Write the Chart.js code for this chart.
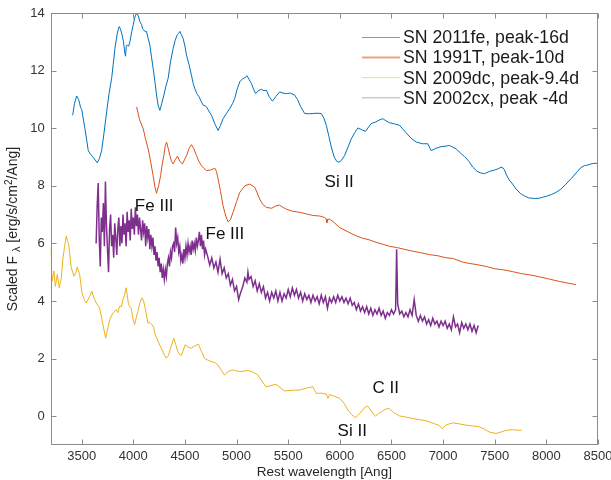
<!DOCTYPE html>
<html>
<head>
<meta charset="utf-8">
<script src="https://cdn.jsdelivr.net/npm/chart.js@4/dist/chart.umd.min.js"></script>
<style>
html, body { margin: 0; padding: 0; background: #fff; }
#wrap { width: 611px; height: 480px; }
</style>
</head>
<body>
<div id="wrap"><canvas id="myChart"></canvas></div>
<script>
// Spectra (rest wavelength in Ang, scaled flux)
const fe11Wave = [3413,3430,3451,3470,3490,3500,3532,3550,3564,3585,3612,3630,3651,3672,3693,3715,3742,3765,3790,3805,3822,3845,3863,3875,3887,3905,3918,3925,3932,3941,3955,3967,3985,3999,4015,4032,4048,4064,4080,4090,4102,4115,4128,4145,4160,4175,4192,4210,4225,4240,4257,4275,4296,4315,4337,4360,4386,4405,4425,4440,4451,4465,4482,4500,4515,4540,4563,4580,4595,4615,4637,4655,4676,4695,4709,4730,4757,4790,4821,4845,4869,4900,4934,4960,4982,5005,5031,5060,5080,5101,5120,5144,5165,5185,5210,5240,5265,5289,5315,5347,5380,5417,5450,5482,5520,5562,5590,5620,5659,5700,5739,5780,5820,5845,5869,5895,5917,5945,5970,5991,6015,6046,6080,6111,6145,6175,6210,6249,6280,6304,6350,6380,6416,6450,6481,6530,6578,6640,6690,6740,6800,6852,6884,6930,6980,7029,7061,7090,7126,7165,7206,7250,7287,7330,7360,7400,7450,7500,7540,7561,7580,7595,7609,7640,7673,7706,7750,7787,7830,7883,7930,7963,8012,8050,8093,8140,8190,8240,8302,8330,8367,8400,8432,8460,8500];
const fe11Flux = [10.45,10.85,11.12,11.0,10.72,10.65,9.98,9.55,9.22,9.1,8.99,8.9,8.8,8.95,9.22,9.8,10.57,11.2,11.73,12.2,12.77,13.3,13.53,13.45,13.3,13.0,12.6,12.5,12.85,12.89,12.85,13.0,13.35,13.59,13.85,14.0,13.9,13.7,13.6,13.45,13.41,13.35,13.36,13.1,12.89,12.5,12.08,11.6,11.15,10.8,10.62,10.85,11.15,11.45,11.73,12.3,12.77,13.05,13.24,13.3,13.36,13.25,13.12,12.85,12.54,12.2,11.84,11.55,11.38,11.2,11.09,10.95,10.8,10.78,10.74,10.6,10.45,10.15,9.92,10.1,10.33,10.5,10.68,10.85,11.03,11.35,11.61,11.72,11.75,11.82,11.7,11.55,11.35,11.2,11.3,11.35,11.3,11.32,11.1,10.94,11.1,11.26,11.22,11.2,11.22,11.15,11.0,10.75,10.51,10.5,10.51,10.52,10.51,10.35,10.1,9.7,9.35,9.0,8.85,8.82,8.88,9.05,9.35,9.63,9.85,10.01,9.95,9.89,10.05,10.16,10.22,10.28,10.33,10.25,10.19,10.15,10.1,9.85,9.65,9.52,9.46,9.46,9.22,9.3,9.36,9.38,9.4,9.35,9.28,9.15,9.02,8.85,8.65,8.5,8.45,8.42,8.5,8.55,8.6,8.65,8.62,8.55,8.41,8.2,8.06,7.89,7.73,7.65,7.58,7.56,7.57,7.6,7.65,7.7,7.77,7.88,8.06,8.25,8.5,8.62,8.7,8.72,8.76,8.78,8.78];

const t91Wave = [4032,4060,4096,4120,4144,4170,4192,4210,4225,4245,4264,4280,4296,4310,4322,4338,4354,4370,4386,4405,4428,4450,4476,4495,4515,4540,4563,4585,4612,4635,4660,4685,4709,4750,4789,4805,4821,4845,4869,4895,4917,4940,4966,5000,5031,5080,5127,5176,5200,5224,5255,5289,5340,5380,5417,5450,5482,5540,5611,5680,5739,5804,5852,5868,5875,5885,5901,5933,5998,6080,6159,6220,6288,6350,6416,6480,6546,6620,6706,6780,6868,6950,7029,7093,7190,7260,7319,7416,7500,7590,7673,7760,7850,7932,8030,8125,8210,8286];
const t91Flux = [10.74,10.3,9.98,9.6,9.28,8.8,8.35,7.95,7.74,8.0,8.35,8.75,9.05,9.4,9.52,9.3,9.05,8.85,8.76,8.9,9.03,8.85,8.76,8.9,9.05,9.3,9.43,9.3,9.05,8.85,8.7,8.6,8.53,8.55,8.61,8.5,8.24,7.8,7.31,6.95,6.75,6.82,7.08,7.45,7.77,8.0,8.06,7.95,7.75,7.54,7.35,7.25,7.22,7.3,7.33,7.25,7.19,7.12,7.08,7.02,6.97,6.95,6.9,6.85,6.72,6.84,6.84,6.76,6.55,6.4,6.26,6.18,6.12,6.04,5.97,5.9,5.86,5.8,5.73,5.68,5.61,5.57,5.5,5.48,5.35,5.3,5.27,5.2,5.12,5.08,5.02,4.95,4.9,4.84,4.76,4.68,4.62,4.57];

const dc09Wave = [3200,3213,3232,3245,3264,3283,3303,3319,3335,3351,3362,3374,3399,3425,3445,3457,3480,3503,3525,3544,3577,3599,3620,3641,3674,3706,3732,3750,3771,3802,3834,3850,3867,3885,3899,3915,3931,3945,3954,3979,3995,4012,4044,4065,4083,4100,4115,4141,4160,4180,4195,4212,4240,4270,4318,4340,4360,4392,4410,4431,4463,4480,4502,4530,4560,4600,4631,4660,4689,4720,4753,4790,4818,4850,4883,4920,4963,5000,5043,5090,5124,5165,5205,5245,5285,5330,5382,5420,5463,5540,5611,5680,5739,5772,5820,5869,5885,5900,5940,5998,6040,6078,6115,6152,6180,6207,6240,6271,6310,6346,6375,6401,6440,6475,6525,6578,6640,6706,6770,6836,6916,6960,6991,7030,7093,7160,7223,7290,7351,7400,7448,7513,7560,7609,7670,7738,7760];
const dc09Flux = [5.85,4.69,5.04,4.51,4.92,4.46,4.81,5.5,5.9,6.26,6.1,5.97,5.16,4.86,5.0,5.18,4.92,4.28,4.05,3.93,4.16,4.34,4.1,3.93,3.76,3.18,2.71,3.0,3.35,3.58,3.7,3.6,3.82,3.8,4.05,4.2,4.46,4.1,3.87,3.76,3.4,3.18,3.64,3.95,4.11,4.0,3.76,3.24,3.25,3.18,3.1,2.83,2.6,2.36,2.01,2.1,2.36,2.71,2.5,2.24,2.1,2.25,2.48,2.4,2.36,2.45,2.5,2.25,2.01,1.95,1.9,1.86,1.78,1.6,1.43,1.55,1.61,1.57,1.55,1.58,1.58,1.52,1.43,1.22,1.02,1.06,1.11,1.0,0.88,0.9,0.91,0.98,1.02,0.79,0.8,0.77,0.62,0.75,0.7,0.62,0.45,0.21,0.05,-0.05,0.05,0.15,0.3,0.35,0.15,0.0,0.1,0.15,0.24,0.27,0.12,0.01,-0.03,-0.08,-0.12,-0.16,-0.26,-0.32,-0.43,-0.3,-0.23,-0.27,-0.31,-0.34,-0.37,-0.45,-0.55,-0.6,-0.55,-0.49,-0.47,-0.49,-0.49];

const cx02Wave = [3640,3650,3660,3670,3680,3690,3700,3710,3720,3730,3740,3750,3760,3770,3780,3790,3800,3810,3820,3830,3840,3850,3860,3870,3880,3890,3900,3910,3920,3930,3940,3950,3960,3970,3980,3990,4000,4010,4020,4030,4040,4050,4060,4070,4080,4090,4100,4110,4120,4130,4140,4150,4160,4170,4180,4190,4200,4210,4220,4230,4240,4250,4260,4270,4280,4290,4300,4310,4320,4330,4340,4350,4360,4370,4380,4390,4400,4410,4420,4430,4440,4450,4460,4470,4480,4490,4500,4510,4520,4530,4540,4550,4560,4570,4580,4590,4600,4610,4620,4630,4640,4650,4660,4670,4680,4690,4700,4720,4740,4760,4780,4800,4820,4840,4860,4880,4900,4920,4940,4960,4980,5000,5020,5040,5060,5080,5100,5110,5120,5140,5160,5180,5200,5220,5240,5260,5280,5300,5320,5340,5360,5380,5400,5420,5440,5460,5480,5500,5520,5540,5560,5580,5600,5620,5640,5660,5680,5700,5720,5740,5760,5780,5800,5820,5840,5860,5880,5900,5920,5940,5960,5980,6000,6020,6040,6060,6080,6100,6120,6140,6160,6180,6200,6220,6240,6260,6280,6300,6320,6340,6360,6380,6400,6420,6440,6460,6480,6500,6520,6540,6550,6560,6580,6600,6620,6640,6660,6680,6700,6720,6740,6760,6780,6800,6820,6840,6860,6880,6900,6920,6940,6960,6980,7000,7020,7040,7060,7080,7100,7120,7140,7160,7180,7200,7220,7240,7260,7280,7300,7320,7340];
const cx02Flux = [6.0,7.3,8.1,6.2,5.2,6.9,6.4,7.4,5.9,8.15,6.6,5.8,5.0,6.5,7.0,5.9,6.3,5.5,6.7,6.2,5.6,6.5,6.9,5.9,6.6,6.0,7.0,6.3,6.7,5.9,7.1,6.4,6.8,6.1,7.2,6.5,6.9,6.3,7.25,6.6,7.0,6.3,6.9,6.5,6.1,6.8,6.4,6.7,5.9,6.6,6.2,6.5,5.8,6.3,5.9,6.2,5.6,5.9,5.4,5.7,5.2,5.5,5.0,5.3,4.8,5.1,4.75,5.1,4.85,5.3,5.5,5.2,5.7,5.5,5.9,6.0,5.7,6.55,6.0,6.2,5.7,5.9,5.4,5.6,5.3,5.8,5.5,5.9,5.6,6.0,5.7,5.9,5.6,6.1,5.8,6.0,5.75,6.2,5.9,6.1,6.4,5.9,6.3,5.8,6.1,5.6,5.8,5.55,5.25,5.5,5.15,5.35,5.0,5.45,4.95,5.15,4.8,4.95,4.55,4.75,4.35,4.5,4.05,4.3,4.5,4.8,4.65,5.0,4.75,4.85,4.5,4.7,4.35,4.6,4.3,4.5,4.1,4.3,4.0,4.3,4.1,4.35,4.0,4.3,4.0,4.25,4.1,4.4,4.15,4.45,4.2,4.4,4.1,4.3,4.0,4.25,4.05,4.2,3.95,4.2,4.0,4.15,3.9,4.2,3.95,4.15,3.75,4.1,3.95,4.15,3.95,4.2,4.0,4.15,3.95,4.1,3.9,4.1,3.85,3.95,3.7,3.9,3.65,3.8,3.6,3.8,3.55,3.75,3.5,3.7,3.55,3.75,3.5,3.65,3.4,3.6,3.5,3.7,3.55,3.7,5.8,3.9,3.55,3.65,3.45,3.6,3.45,3.7,3.5,4.05,3.5,3.3,3.5,3.3,3.45,3.2,3.35,3.15,3.4,3.2,3.3,3.1,3.3,3.15,3.3,3.05,3.2,3.0,3.45,3.1,3.2,2.9,3.25,3.05,3.2,3.0,3.2,2.95,3.15,2.9,3.15];

const seriesNames = ['SN 2011fe, peak-16d', 'SN 1991T, peak-10d', 'SN 2009dc, peak-9.4d', 'SN 2002cx, peak -4d'];
const xTicks = [3500, 4000, 4500, 5000, 5500, 6000, 6500, 7000, 7500, 8000, 8500];
const yTicks = [0, 2, 4, 6, 8, 10, 12, 14];

// line labels: [text, wavelength, flux] (left edge / baseline)
const lineLabels = [
    ['Fe III', 4015, 7.12],
    ['Fe III', 4699, 6.14],
    ['Si II', 5852, 7.96],
    ['C II', 6317, 0.80],
    ['Si II', 5978, -0.70]
];

const colors = ['#0072BD', '#D95319', '#EDB120', '#7E2F8E'];
const legendColors = ['#5aa6dc', '#eea07f', '#f3d595', '#c8a3d0'];
const FONT = '"Liberation Sans", Arial, Helvetica, sans-serif';

function toPoints(wave, flux) {
    return wave.map((w, i) => ({ x: w, y: flux[i] }));
}

function makeSet(i, wave, flux, width) {
    return {
        label: seriesNames[i],
        data: toPoints(wave, flux),
        borderColor: colors[i],
        borderWidth: width,
        pointRadius: 0,
        tension: 0,
        fill: false
    };
}

// frame, inward ticks, labels, legend, axis titles
const decorations = {
    id: 'decorations',
    afterDatasetsDraw(chart) {
        const { ctx, chartArea: a, scales: { x, y } } = chart;
        const L = Math.round(a.left) + 0.5, R = Math.round(a.right) - 0.5;
        const T = Math.round(a.top) + 0.5, B = Math.round(a.bottom) - 0.5;
        ctx.save();
        ctx.strokeStyle = '#8c8c8c';
        ctx.lineWidth = 1;
        ctx.strokeRect(L, T, R - L, B - T);
        ctx.beginPath();
        xTicks.forEach(v => {
            const px = Math.round(x.getPixelForValue(v)) + 0.5;
            ctx.moveTo(px, B); ctx.lineTo(px, B - 5);
            ctx.moveTo(px, T); ctx.lineTo(px, T + 5);
        });
        yTicks.forEach(v => {
            const py = Math.round(y.getPixelForValue(v)) + 0.5;
            ctx.moveTo(L, py); ctx.lineTo(L + 5, py);
            ctx.moveTo(R, py); ctx.lineTo(R - 5, py);
        });
        ctx.stroke();

        // line identifications
        ctx.fillStyle = '#111';
        ctx.font = '17px ' + FONT;
        ctx.textAlign = 'left';
        ctx.textBaseline = 'alphabetic';
        lineLabels.forEach(([txt, w, f]) => {
            ctx.fillText(txt, x.getPixelForValue(w), y.getPixelForValue(f));
        });

        // legend
        ctx.font = '17.7px ' + FONT;
        seriesNames.forEach((name, i) => {
            const cy = 37.5 + i * 20.1;
            ctx.strokeStyle = legendColors[i];
            ctx.lineWidth = i === 1 ? 2 : 1;
            ctx.beginPath();
            ctx.moveTo(362, cy); ctx.lineTo(400, cy);
            ctx.stroke();
            ctx.fillStyle = '#1a1a1a';
            ctx.fillText(name, 403, cy + 5.8);
        });

        // x title
        ctx.fillStyle = '#262626';
        ctx.font = '13.5px ' + FONT;
        ctx.textAlign = 'center';
        ctx.fillText('Rest wavelength [Ang]', (a.left + a.right) / 2, 476);

        // y title with sub/superscript
        const parts = [
            ['Scaled F', 14, 0],
            [' ', 14, 0],
            ['\u03bb', 11, 3],
            [' [erg/s/cm', 14, 0],
            ['2', 10, -5],
            ['/Ang]', 14, 0]
        ];
        let total = 0;
        parts.forEach(p => { ctx.font = p[1] + 'px ' + FONT; total += ctx.measureText(p[0]).width; });
        ctx.translate(17, (a.top + a.bottom) / 2);
        ctx.rotate(-Math.PI / 2);
        ctx.textAlign = 'left';
        let cx = -total / 2;
        parts.forEach(p => {
            ctx.font = p[1] + 'px ' + FONT;
            ctx.fillText(p[0], cx, p[2]);
            cx += ctx.measureText(p[0]).width;
        });
        ctx.restore();
    }
};

const ctx = document.getElementById('myChart').getContext('2d');
new Chart(ctx, {
    type: 'line',
    data: {
        datasets: [
            makeSet(0, fe11Wave, fe11Flux, 1),
            makeSet(1, t91Wave, t91Flux, 1),
            makeSet(2, dc09Wave, dc09Flux, 1),
            makeSet(3, cx02Wave, cx02Flux, 1.5)
        ]
    },
    options: {
        responsive: true,
        maintainAspectRatio: false,
        animation: false,
        devicePixelRatio: 1,
        layout: { padding: { top: 13, right: 13, bottom: 0, left: 0 } },
        plugins: {
            legend: { display: false },
            tooltip: { enabled: false }
        },
        scales: {
            x: {
                type: 'linear',
                min: 3200,
                max: 8500,
                grid: { display: false, drawTicks: false },
                border: { display: false },
                afterBuildTicks: s => { s.ticks = xTicks.map(v => ({ value: v })); },
                afterFit: s => { s.height = 35; s.paddingLeft = 0; s.paddingRight = 0; },
                ticks: {
                    padding: 4,
                    color: '#333',
                    font: { family: FONT, size: 13 },
                    maxRotation: 0,
                    callback: v => String(v)
                }
            },
            y: {
                type: 'linear',
                min: -1,
                max: 14,
                grid: { display: false, drawTicks: false },
                border: { display: false },
                afterBuildTicks: s => { s.ticks = yTicks.map(v => ({ value: v })); },
                afterFit: s => { s.width = 50.7; s.paddingTop = 0; s.paddingBottom = 0; },
                ticks: {
                    padding: 6,
                    color: '#333',
                    font: { family: FONT, size: 13 },
                    callback: v => String(v)
                }
            }
        }
    },
    plugins: [decorations]
});
</script>
</body>
</html>
